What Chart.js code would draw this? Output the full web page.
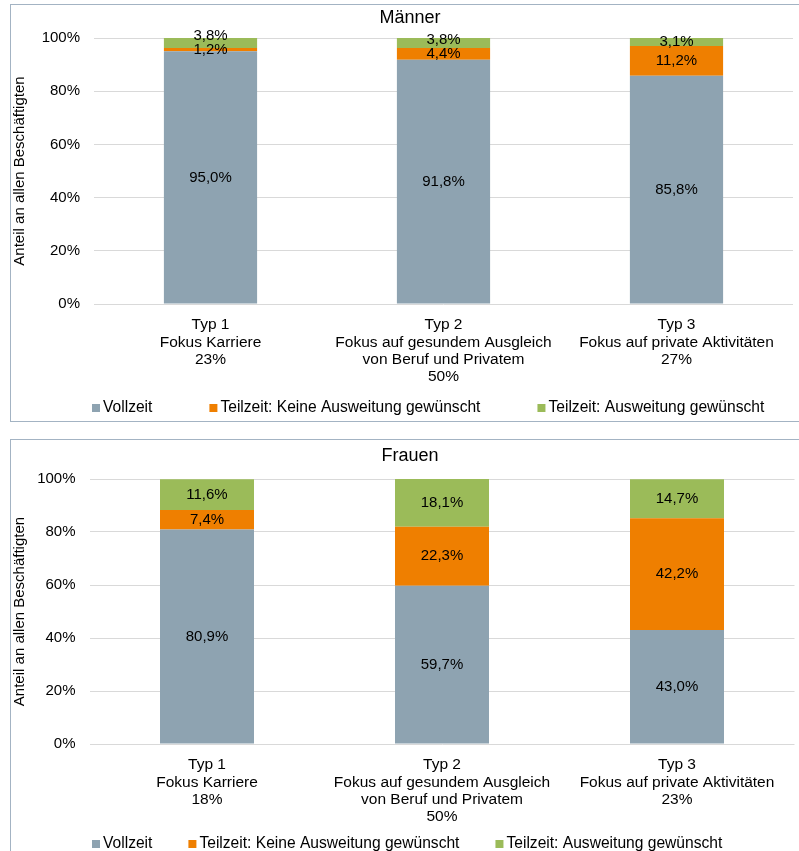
<!DOCTYPE html>
<html lang="de">
<head>
<meta charset="utf-8">
<title>Beschäftigungsumfang nach Typ</title>
<script src="https://cdn.jsdelivr.net/npm/chart.js@4.4.1/dist/chart.umd.min.js"></script>
<style>
  html, body { margin: 0; padding: 0; background: #fff; overflow: hidden; }
  body { width: 799px; height: 851px; position: relative; }
  .rahmen { position: absolute; left: 10px; width: 830px; border: 1px solid #A3B3C3; box-sizing: border-box; }
  #rahmenM { top: 4px; height: 418px; }
  #rahmenF { top: 439px; height: 500px; }
  canvas { position: absolute; left: 11px; }
  #maenner { top: 5px; }
  #frauen { top: 440px; }
</style>
</head>
<body>
<div class="rahmen" id="rahmenM"></div>
<div class="rahmen" id="rahmenF"></div>
<canvas id="maenner" width="798" height="420"></canvas>
<canvas id="frauen" width="798" height="423"></canvas>
<script>
const schrift = 'Arial, "Liberation Sans", sans-serif';
Chart.defaults.font.family = schrift;
Chart.defaults.color = '#000';

// Reihen und Farben (gleich für beide Diagramme)
const reihenNamen = ['Vollzeit', 'Teilzeit: Keine Ausweitung gewünscht', 'Teilzeit: Ausweitung gewünscht'];
const farben = ['#8EA3B1', '#EF7F00', '#9BBB59'];
const yTicks = [0, 20, 40, 60, 80, 100];

// Männer
const typenMaenner = [
  ['Typ 1', 'Fokus Karriere', '23%'],
  ['Typ 2', 'Fokus auf gesundem Ausgleich', 'von Beruf und Privatem', '50%'],
  ['Typ 3', 'Fokus auf private Aktivitäten', '27%']
];
const vollzeitMaenner = [95.0, 91.8, 85.8];
const keineAusweitungMaenner = [1.2, 4.4, 11.2];
const ausweitungMaenner = [3.8, 3.8, 3.1];

// Frauen
const typenFrauen = [
  ['Typ 1', 'Fokus Karriere', '18%'],
  ['Typ 2', 'Fokus auf gesundem Ausgleich', 'von Beruf und Privatem', '50%'],
  ['Typ 3', 'Fokus auf private Aktivitäten', '23%']
];
const vollzeitFrauen = [80.9, 59.7, 43.0];
const keineAusweitungFrauen = [7.4, 22.3, 42.2];
const ausweitungFrauen = [11.6, 18.1, 14.7];

// Prozentwerte mittig in die Segmente schreiben; liegen zwei zu dicht,
// wird das obere nach oben geschoben
const wertBeschriftung = {
  id: 'wertBeschriftung',
  afterDatasetsDraw(chart) {
    const ctx = chart.ctx;
    const abstand = 14;
    ctx.save();
    ctx.font = '15px ' + schrift;
    ctx.fillStyle = '#000';
    ctx.textAlign = 'center';
    ctx.textBaseline = 'middle';
    chart.data.labels.forEach((_, i) => {
      let darunter = null;
      chart.data.datasets.forEach((ds, d) => {
        const p = chart.getDatasetMeta(d).data[i].getCenterPoint();
        let y = p.y;
        if (darunter !== null && darunter - y < abstand) y = darunter - abstand;
        ctx.fillText(ds.data[i].toFixed(1).replace('.', ',') + '%', p.x, y);
        darunter = y;
      });
    });
    ctx.restore();
  }
};

// Legende unten: kleines Quadrat, knapp daneben der Text
const legende = {
  id: 'legende',
  afterDraw(chart, args, o) {
    const ctx = chart.ctx;
    ctx.save();
    ctx.font = '15.6px ' + schrift;
    ctx.textBaseline = 'middle';
    let x = o.x;
    chart.data.datasets.forEach(ds => {
      ctx.fillStyle = ds.backgroundColor;
      ctx.fillRect(x, o.y - 4, 8, 8);
      ctx.fillStyle = '#000';
      ctx.fillText(ds.label, x + 11, o.y);
      x += 11 + ctx.measureText(ds.label).width + o.abstand;
    });
    ctx.restore();
  }
};

function diagramm(id, titel, typen, reihen, m) {
  return new Chart(document.getElementById(id), {
    type: 'bar',
    data: {
      labels: typen,
      datasets: reihen.map((werte, k) => ({
        label: reihenNamen[k],
        data: werte,
        backgroundColor: farben[k],
        borderWidth: 0,
        barPercentage: 0.4,
        categoryPercentage: 1
      }))
    },
    options: {
      responsive: false,
      animation: false,
      events: [],
      layout: { padding: { left: m.rand, right: m.rand, top: 0, bottom: m.untenFrei } },
      scales: {
        x: {
          stacked: true,
          grid: { display: false, drawTicks: false },
          border: { display: false },
          ticks: { font: { size: 15.5, lineHeight: 1.12 }, padding: 12.3, maxRotation: 0, autoSkip: false },
          afterFit(s) { s.height = 85; }
        },
        y: {
          stacked: true,
          min: 0,
          max: 100,
          afterBuildTicks(s) { s.ticks = yTicks.map(v => ({ value: v })); },
          ticks: { padding: 14, font: { size: 15 }, callback: v => v + '%' },
          grid: { color: '#D9D9D9', drawTicks: false },
          border: { display: false },
          title: {
            display: true,
            text: 'Anteil an allen Beschäftigten',
            font: { size: 15 },
            // Achsentitel bis an den linken Canvasrand ziehen
            padding: { top: -m.rand, bottom: 0 }
          },
          afterFit(s) { s.width = m.yBreite; }
        }
      },
      plugins: {
        title: {
          display: true,
          text: titel,
          font: { size: 18, weight: 'normal' },
          color: '#000',
          padding: { top: m.titelOben, bottom: m.titelUnten }
        },
        legend: { display: false },
        legende: { x: 81, y: m.legendeY, abstand: m.legendeAbstand },
        tooltip: { enabled: false }
      }
    },
    plugins: [wertBeschriftung, legende]
  });
}

diagramm('maenner', 'Männer', typenMaenner,
  [vollzeitMaenner, keineAusweitungMaenner, ausweitungMaenner],
  { rand: 16, yBreite: 67, untenFrei: 36, titelOben: 2.2, titelUnten: 9.2, legendeY: 403, legendeAbstand: 57 });

diagramm('frauen', 'Frauen', typenFrauen,
  [vollzeitFrauen, keineAusweitungFrauen, ausweitungFrauen],
  { rand: 14.5, yBreite: 64, untenFrei: 34, titelOben: 5.2, titelUnten: 12.2, legendeY: 404, legendeAbstand: 36 });
</script>
</body>
</html>
